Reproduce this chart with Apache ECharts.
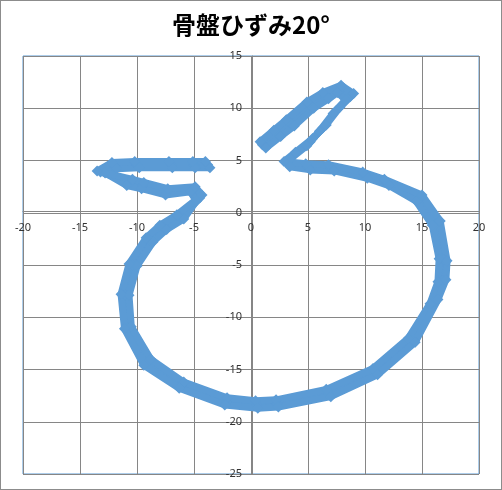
<!DOCTYPE html>
<html style="height: 100%">
<head>
    <meta charset="utf-8">
    <script src="https://cdn.jsdelivr.net/npm/echarts@6/dist/echarts.min.js"></script>
</head>
<body style="height: 100%; margin: 0;">
    <div id="container" style="width: 502px; height: 490px; box-sizing: border-box; border: 1px solid #8c8c8c; background: #fff;"></div>
    <script type="text/javascript">
        var titleText = '骨盤ひずみ20°';
        var xTicks = [-20, -15, -10, -5, 0, 5, 10, 15, 20];
        var yTicks = [-25, -20, -15, -10, -5, 0, 5, 10, 15];

        // three traced passes of the same figure
        var pass1 = [[1.0, 6.5], [2.3, 7.6], [3.4, 8.6], [5.2, 10.3], [6.5, 11.2], [7.8, 11.9], [8.7, 11.1], [7.5, 9.8], [6.3, 8.1], [5.2, 6.8], [3.7, 5.5], [3.2, 4.7], [5.0, 4.4], [7.0, 4.3], [10.0, 3.6], [11.9, 2.9], [14.8, 1.4], [16.3, -1.0], [16.9, -4.5], [16.8, -6.5], [16.1, -8.5], [14.1, -12.2], [10.9, -15.2], [6.8, -17.3], [2.3, -18.3], [0.5, -18.4], [-2.2, -18.1], [-6.1, -16.5], [-9.1, -14.3], [-10.8, -11.0], [-11.05, -7.9], [-10.4, -5.0], [-8.9, -2.6], [-7.7, -1.4], [-6.2, -0.4], [-4.5, 1.4], [-5.1, 2.2], [-7.4, 2.0], [-9.5, 2.6], [-10.6, 2.9], [-13.2, 3.9], [-12.0, 4.5], [-10.0, 4.6], [-7.0, 4.6], [-5.0, 4.6], [-3.8, 4.6]];
        var pass2 = [[1.3, 6.2], [2.6, 7.3], [3.8, 8.3], [5.5, 10.0], [6.8, 10.9], [7.6, 11.5], [8.3, 10.8], [7.2, 9.5], [6.0, 7.8], [4.9, 6.4], [3.5, 5.2], [3.4, 4.4], [5.2, 4.1], [7.3, 4.0], [10.2, 3.3], [12.1, 2.6], [14.5, 1.1], [15.9, -1.2], [16.5, -4.4], [16.4, -6.6], [15.7, -8.7], [13.8, -12.0], [10.7, -14.9], [6.6, -16.9], [2.2, -17.9], [0.4, -18.0], [-2.1, -17.7], [-5.9, -16.2], [-8.8, -14.0], [-10.5, -10.9], [-10.7, -7.9], [-10.0, -5.1], [-8.6, -2.8], [-7.4, -1.6], [-5.9, -0.6], [-4.8, 1.1], [-5.3, 2.0], [-7.5, 1.7], [-9.6, 2.3], [-10.9, 2.6], [-12.8, 3.8], [-11.8, 4.2], [-9.8, 4.3], [-6.9, 4.3], [-4.9, 4.3], [-3.6, 4.3]];
        var pass3 = [[0.8, 6.8], [2.0, 7.9], [3.1, 8.9], [4.9, 10.6], [6.3, 11.5], [7.9, 12.2], [9.0, 11.4], [7.8, 10.1], [6.6, 8.4], [5.4, 7.1], [3.9, 5.8], [2.9, 4.9], [4.8, 4.7], [6.8, 4.6], [9.8, 3.9], [11.7, 3.2], [15.0, 1.7], [16.6, -0.8], [17.2, -4.6], [17.1, -6.4], [16.4, -8.3], [14.4, -12.4], [11.1, -15.5], [7.0, -17.6], [2.4, -18.6], [0.6, -18.7], [-2.3, -18.4], [-6.3, -16.8], [-9.4, -14.6], [-11.1, -11.1], [-11.4, -7.8], [-10.7, -4.9], [-9.2, -2.4], [-8.0, -1.2], [-6.5, -0.2], [-4.3, 1.7], [-4.9, 2.5], [-7.3, 2.3], [-9.4, 2.9], [-10.4, 3.2], [-13.5, 4.0], [-12.2, 4.8], [-10.2, 4.9], [-7.2, 4.9], [-5.1, 4.9], [-4.0, 4.9]];

        var lineColor = '#5b9bd5';
        var gridColor = '#868686';
        var font = '"Noto Sans", "DejaVu Sans", sans-serif';

        var gridLeft = 22, gridRight = 22, gridTop = 55, gridBottom = 15;
        var plotW = 502 - gridLeft - gridRight;
        var plotH = 490 - gridTop - gridBottom;
        // push the axes (and their labels) onto x = 0 / y = 0
        var yAxisOffset = -plotW * (0 - xTicks[0]) / (xTicks[xTicks.length - 1] - xTicks[0]);
        var xAxisOffset = -plotH * (0 - yTicks[0]) / (yTicks[yTicks.length - 1] - yTicks[0]);

        var dom = document.getElementById("container");
        var myChart = echarts.init(dom, null, { renderer: 'canvas' });

        function makeSeries(name, data) {
            return {
                name: name,
                type: 'line',
                data: data,
                symbol: 'diamond',
                symbolSize: 11,
                showSymbol: true,
                lineStyle: { color: lineColor, width: 7 },
                itemStyle: { color: lineColor },
                z: 3
            };
        }

        var option = {
            animation: false,
            title: {
                text: titleText,
                left: 166,
                top: 7,
                textStyle: {
                    fontFamily: '"Noto Sans CJK JP", sans-serif',
                    fontSize: 24,
                    fontWeight: 'bold',
                    color: '#000'
                }
            },
            grid: {
                left: gridLeft,
                right: gridRight,
                top: gridTop,
                bottom: gridBottom,
                show: true,
                borderColor: lineColor,
                borderWidth: 1,
                containLabel: false
            },
            xAxis: {
                type: 'value',
                position: 'bottom',
                offset: xAxisOffset,
                min: xTicks[0],
                max: xTicks[xTicks.length - 1],
                interval: 5,
                axisLine: { onZero: false, lineStyle: { color: gridColor } },
                axisTick: { show: false },
                axisLabel: {
                    color: '#333',
                    fontFamily: font,
                    fontSize: 11,
                    margin: 11,
                    showMinLabel: true,
                    showMaxLabel: true
                },
                splitLine: { show: true, lineStyle: { color: gridColor } }
            },
            yAxis: {
                type: 'value',
                position: 'left',
                offset: yAxisOffset,
                min: yTicks[0],
                max: yTicks[yTicks.length - 1],
                interval: 5,
                axisLine: { onZero: false, lineStyle: { color: gridColor } },
                axisTick: { show: false },
                axisLabel: {
                    color: '#333',
                    fontFamily: font,
                    fontSize: 11,
                    margin: 10,
                    showMinLabel: true,
                    showMaxLabel: true
                },
                splitLine: { show: true, lineStyle: { color: gridColor } }
            },
            series: [
                makeSeries('pass1', pass1),
                makeSeries('pass2', pass2),
                makeSeries('pass3', pass3)
            ]
        };

        myChart.setOption(option);
        window.onresize = myChart.resize;
    </script>
</body>
</html>
